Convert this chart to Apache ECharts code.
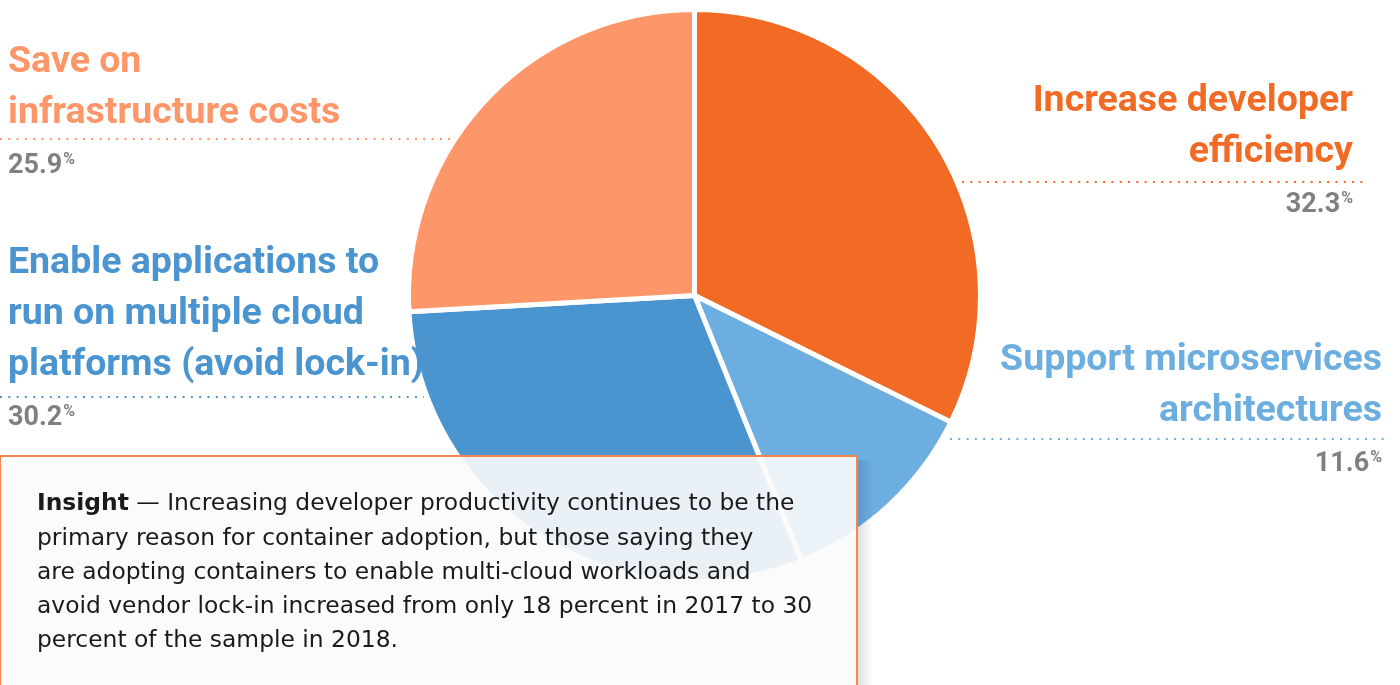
<!DOCTYPE html>
<html>
<head>
<meta charset="utf-8">
<script src="https://cdn.jsdelivr.net/npm/echarts@6/dist/echarts.min.js"></script>
<style>
html,body{margin:0;padding:0;background:#fff;}
#c{width:1400px;height:685px;}
</style>
</head>
<body>
<div id="c"></div>
<script>
// ---- data ----
const categories = [
  'Increase developer\nefficiency',
  'Support microservices\narchitectures',
  'Enable applications to\nrun on multiple cloud\nplatforms (avoid lock-in)',
  'Save on\ninfrastructure costs'
];
const values = [32.3, 11.6, 30.2, 25.9];
const insightLines = [
  ' \u2014 Increasing developer productivity continues to be the',
  'primary reason for container adoption, but those saying they',
  'are adopting containers to enable multi-cloud workloads and',
  'avoid vendor lock-in increased from only 18 percent in 2017 to 30',
  'percent of the sample in 2018.'
];

// ---- styles / layout ----
const colors = ['#F26B24', '#6CAEE0', '#4A94D0', '#FD9668'];
// label anchor (x, top y, align) and dotted leader line (x1, x2, y)
const labelPos = [
  { x: 1353, y: 76, align: 'right', line: [962, 1366, 182] },
  { x: 1382, y: 335, align: 'right', line: [950, 1390, 439] },
  { x: 8, y: 238, align: 'left', line: [0, 424, 397] },
  { x: 8, y: 37, align: 'left', line: [0, 452, 139] }
];

const chart = echarts.init(document.getElementById('c'), null, { renderer: 'canvas' });

const data = categories.map((c, i) => ({
  name: c,
  value: values[i],
  itemStyle: { color: colors[i] },
  label: {
    align: labelPos[i].align,
    rich: {
      n: { fontFamily: 'Roboto', fontWeight: 700, fontSize: 37.5, lineHeight: 51, color: colors[i], align: labelPos[i].align },
      p: { fontFamily: 'Roboto', fontWeight: 700, fontSize: 27, lineHeight: 54, color: '#808080', align: labelPos[i].align },
      s: { fontFamily: 'Roboto', fontWeight: 700, fontSize: 16, lineHeight: 18, color: '#808080', padding: [0, 0, 13, 1] }
    }
  }
}));

chart.setOption({
  animation: false,
  backgroundColor: '#ffffff',
  series: [{
    type: 'pie',
    center: [694.5, 295.5],
    radius: [0, 286],
    startAngle: 90,
    clockwise: true,
    data: data,
    itemStyle: { borderColor: '#ffffff', borderWidth: 5 },
    label: {
      show: true,
      position: 'outside',
      formatter: function (p) {
        const lines = p.name.split('\n').map(l => '{n|' + l + '}').join('\n');
        return lines + '\n{p|' + p.value.toFixed(1) + '}{s|%}';
      }
    },
    labelLine: {
      show: true,
      lineStyle: { width: 2, type: [2, 6.3], cap: 'butt' }
    },
    labelLayout: function (params) {
      const lp = labelPos[params.dataIndex];
      const [x1, x2, y] = lp.line;
      return {
        x: lp.x,
        y: lp.y,
        align: lp.align,
        verticalAlign: 'top',
        labelLinePoints: [[x1, y], [(x1 + x2) / 2, y], [x2, y]]
      };
    },
    emphasis: { disabled: true }
  }],
  graphic: [{
    type: 'group',
    z: 100,
    children: [{
      type: 'rect',
      shape: { x: 857, y: 460, width: 16, height: 240 },
      style: {
        fill: {
          type: 'linear', x: 0, y: 0, x2: 1, y2: 0,
          colorStops: [
            { offset: 0, color: 'rgba(0,0,0,0.13)' },
            { offset: 1, color: 'rgba(0,0,0,0)' }
          ]
        }
      },
      z: 99
    }, {
      type: 'rect',
      shape: { x: 0, y: 456, width: 857, height: 240 },
      style: {
        fill: 'rgba(251,251,251,0.9)',
        stroke: '#F6844C',
        lineWidth: 2
      },
      z: 100
    }, {
      type: 'text',
      x: 37,
      y: 487,
      z: 101,
      style: {
        text: '{b|Insight}{r|' + insightLines[0] + '}\n' + insightLines.slice(1).map(l => '{r|' + l + '}').join('\n'),
        rich: {
          b: { fontFamily: 'DejaVu Sans', fontWeight: 700, fontSize: 23.4, lineHeight: 34.3, fill: '#1a1a1a' },
          r: { fontFamily: 'DejaVu Sans', fontWeight: 400, fontSize: 23.4, lineHeight: 34.3, fill: '#1a1a1a' }
        },
        verticalAlign: 'top'
      }
    }]
  }]
});
</script>
</body>
</html>
